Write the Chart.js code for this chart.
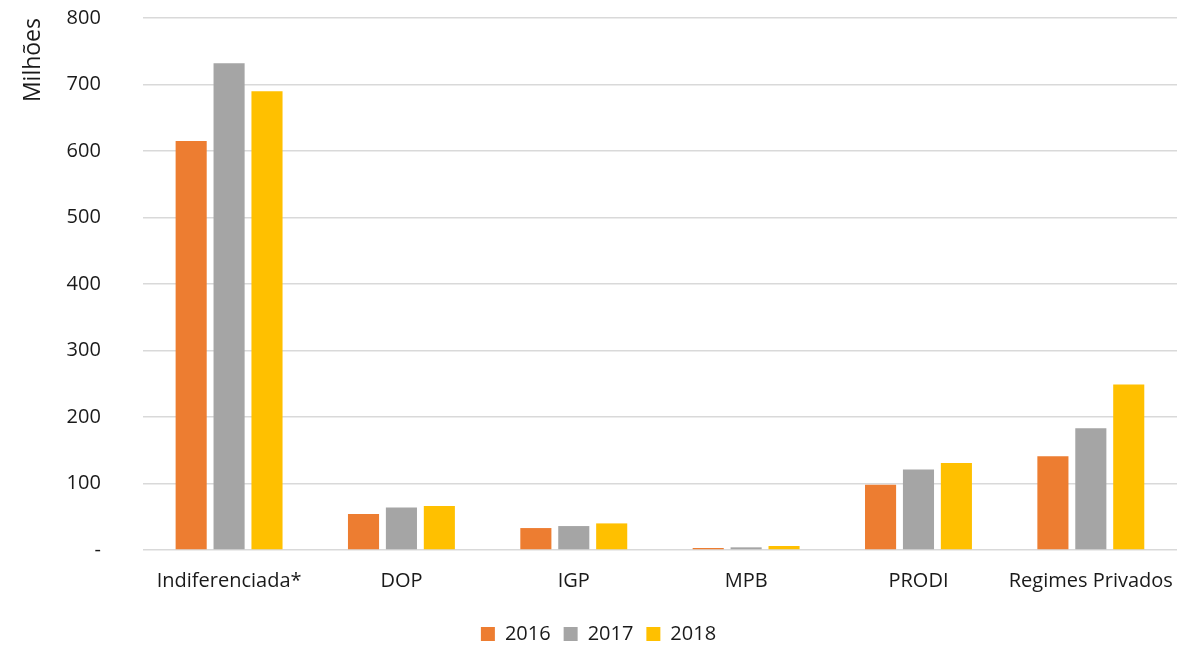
<!DOCTYPE html>
<html>
<head>
<meta charset="utf-8">
<script src="https://cdn.jsdelivr.net/npm/chart.js@4"></script>
<style>
  html, body { margin: 0; padding: 0; background: #fff; }
  #wrap { width: 1201px; height: 646px; }
</style>
</head>
<body>
<div id="wrap"><canvas id="myChart"></canvas></div>
<script>
const categories = ["Indiferenciada*", "DOP", "IGP", "MPB", "PRODI", "Regimes Privados"];
const values2016 = [615, 54, 33, 3, 98, 141];
const values2017 = [732, 64, 36, 4, 121, 183];
const values2018 = [690, 66, 40, 6, 131, 249];
const yTicks = [0, 100, 200, 300, 400, 500, 600, 700, 800];

const ctx = document.getElementById("myChart");
const font = { family: "'Open Sans', sans-serif", size: 20 };

const chart = new Chart(ctx, {
  type: "bar",
  data: {
    labels: categories,
    datasets: [
      { label: "2016", data: values2016, backgroundColor: "#ed7d31" },
      { label: "2017", data: values2017, backgroundColor: "#a5a5a5" },
      { label: "2018", data: values2018, backgroundColor: "#ffc000" },
    ],
  },
  options: {
    responsive: true,
    maintainAspectRatio: false,
    animation: false,
    categoryPercentage: 0.66,
    barPercentage: 0.82,
    layout: { padding: { top: 4, right: 24, left: 20, bottom: -8 } },
    plugins: {
      legend: {
        position: "bottom",
        labels: { boxWidth: 14, boxHeight: 14, color: "#1a1a1a", font: font, padding: 13 },
      },
      tooltip: { enabled: false },
    },
    scales: {
      x: {
        grid: { display: false },
        border: { display: false },
        ticks: { color: "#1a1a1a", font: font, padding: 11 },
        afterFit: (axis) => { axis.height += 7; },
      },
      y: {
        min: 0,
        max: 800,
        afterBuildTicks: (axis) => { axis.ticks = yTicks.map((v) => ({ value: v })); },
        grid: { color: "#d9d9d9", lineWidth: 1.5, drawTicks: true, tickLength: 36, tickColor: "rgba(0,0,0,0)" },
        border: { display: false },
        ticks: {
          color: "#1a1a1a",
          font: font,
          padding: 6,
          callback: (v) => (v === 0 ? "-" : v),
        },
        title: {
          display: true,
          text: "Milhões",
          align: "end",
          color: "#1a1a1a",
          font: { family: "'Open Sans', sans-serif", size: 23 },
          padding: { top: 0, bottom: 13 },
        },
      },
    },
  },
});
</script>
</body>
</html>
